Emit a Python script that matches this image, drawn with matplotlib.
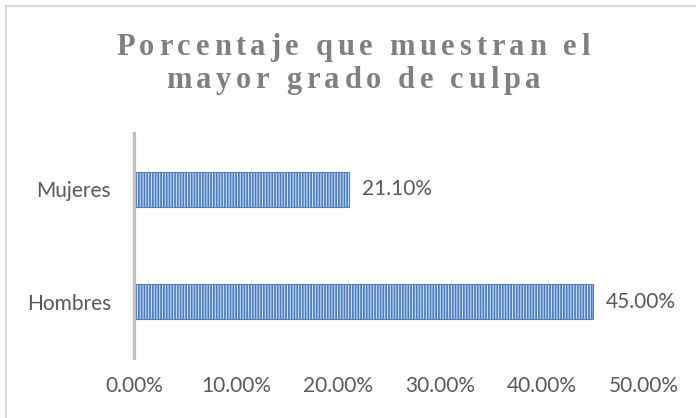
import matplotlib
matplotlib.use("Agg")
import matplotlib.pyplot as plt
from matplotlib.font_manager import FontProperties
from matplotlib.lines import Line2D
from matplotlib.ticker import FuncFormatter

# ---- data ----
categories = ["Hombres", "Mujeres"]
values = [0.45, 0.211]
value_labels = ["45.00%", "21.10%"]
x_ticks = [0.0, 0.1, 0.2, 0.3, 0.4, 0.5]
title_lines = ["Porcentaje que muestran el", "mayor grado de culpa"]

W, H = 696, 418
DPI = 100
fig = plt.figure(figsize=(W / DPI, H / DPI), dpi=DPI)
fig.patch.set_facecolor("white")

plt.rcParams["hatch.linewidth"] = 0.75

label_font = "Lato"
label_size = 15
text_color = "#595959"

# axes placement in pixels
ax_left, ax_right, ax_top, ax_bottom = 134, 644, 133, 358
ax = fig.add_axes([ax_left / W, 1 - ax_bottom / H, (ax_right - ax_left) / W, (ax_bottom - ax_top) / H])

ypos = list(range(len(categories)))
bar_h = 0.31
ax.barh(ypos, values, height=bar_h, color="#4a7cc0", edgecolor="#d6e2f2",
        linewidth=0, hatch="||||||", zorder=2)
ax.barh(ypos, values, height=bar_h, fill=False, edgecolor="#4f81bd",
        linewidth=0.8, zorder=3)

for y, v, lab in zip(ypos, values, value_labels):
    ax.annotate(lab, xy=(v, y), xytext=(9.5, 0), textcoords="offset points",
                va="center", ha="left", fontsize=label_size, family=label_font, color=text_color)

ax.set_xlim(0, 0.5)
ax.set_ylim(-0.5, len(categories) - 0.5)
ax.set_xticks(x_ticks)
ax.xaxis.set_major_formatter(FuncFormatter(lambda v, p: f"{v * 100:.2f}%"))
ax.set_yticks(ypos)
ax.set_yticklabels(categories)
for lbl in ax.get_xticklabels() + ax.get_yticklabels():
    lbl.set_family(label_font)
    lbl.set_fontsize(label_size)
    lbl.set_color(text_color)
ax.tick_params(axis="x", length=0, pad=13)
ax.tick_params(axis="y", length=0, pad=16.5)
for s in ["top", "right", "bottom"]:
    ax.spines[s].set_visible(False)
ax.spines["left"].set_color("#bfbfbf")
ax.spines["left"].set_linewidth(2.3)
ax.spines["left"].set_zorder(4)
ax.set_facecolor("none")

# chart border (top and left visible)
fig.add_artist(Line2D([5.5 / W, 5.5 / W], [0, 1 - 6 / H], transform=fig.transFigure,
                      color="#d9d9d9", lw=1.5))
fig.add_artist(Line2D([5.5 / W, 1], [1 - 6 / H, 1 - 6 / H], transform=fig.transFigure,
                      color="#d9d9d9", lw=1.5))

# title with letter spacing: drawn character by character
fig.canvas.draw()
renderer = fig.canvas.get_renderer()
tprop = FontProperties(family="Liberation Serif", weight="bold", size=22)
title_color = "#808080"
center_x = 353
baselines = [55, 88]
target_w0 = 474

def char_widths(s):
    ws = []
    for ch in s:
        if ch == " ":
            w, _, _ = renderer.get_text_width_height_descent("a a", tprop, ismath=False)
            w2, _, _ = renderer.get_text_width_height_descent("aa", tprop, ismath=False)
            ws.append(w - w2)
        else:
            w, _, _ = renderer.get_text_width_height_descent(ch, tprop, ismath=False)
            ws.append(w)
    return ws

w0 = char_widths(title_lines[0])
spacing = (target_w0 - sum(w0)) / (len(title_lines[0]) - 1)

for line, base in zip(title_lines, baselines):
    ws = char_widths(line)
    total = sum(ws) + spacing * (len(line) - 1)
    x = center_x - total / 2
    for ch, w in zip(line, ws):
        if ch != " ":
            fig.text(x / W, 1 - base / H, ch, fontproperties=tprop, color=title_color,
                     ha="left", va="baseline")
        x += w + spacing

fig.savefig("out.png", dpi=DPI, facecolor="white")
